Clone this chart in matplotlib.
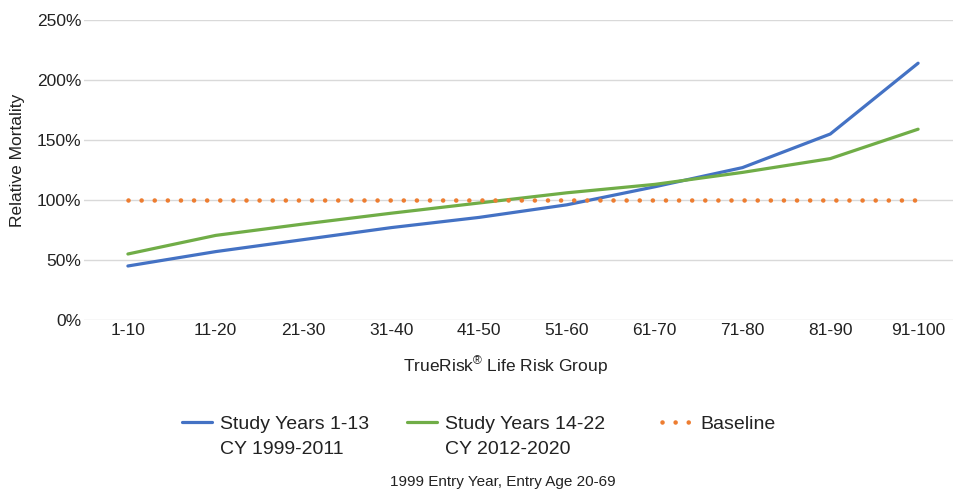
import numpy as np
import matplotlib.pyplot as plt
from matplotlib.lines import Line2D
from matplotlib.ticker import PercentFormatter

# chart data (relative mortality, %)
groups = ['1-10', '11-20', '21-30', '31-40', '41-50',
          '51-60', '61-70', '71-80', '81-90', '91-100']
early = [45, 57, 67, 77, 85.5, 96, 111, 127, 155, 214]
late = [55, 70.5, 80, 89, 97.5, 106, 113, 123, 134.5, 159]
baseline = [100] * 10
labels = [('Study Years 1-13', 'CY 1999-2011'),
          ('Study Years 14-22', 'CY 2012-2020'),
          ('Baseline', '')]

plt.rcParams['font.family'] = ['Liberation Sans', 'DejaVu Sans']
plt.rcParams['mathtext.fontset'] = 'custom'
plt.rcParams['mathtext.rm'] = 'Liberation Sans'

W, H = 954, 496
fig = plt.figure(figsize=(W/100, H/100), dpi=100)
ax = fig.add_axes([84/W, 1-320/H, (962-84)/W, 300/H])

x = np.arange(len(groups))
l1, = ax.plot(x, early, color='#4472C4', lw=2.3, solid_capstyle='round')
l2, = ax.plot(x, late, color='#70AD47', lw=2.3, solid_capstyle='round')
l3, = ax.plot(x, baseline, color='#ED7D31', lw=3.3, dashes=(0.01, 2.85),
              dash_capstyle='round')

ax.set_xlim(-0.5, len(groups)-0.5)
ax.set_ylim(0, 250)
ax.set_yticks(np.arange(0, 251, 50))
ax.yaxis.set_major_formatter(PercentFormatter(decimals=0))
ax.set_xticks(x)
ax.set_xticklabels(groups)
ax.tick_params(axis='both', length=0, labelsize=12.5, colors='#222222')
ax.tick_params(axis='y', pad=2)
ax.tick_params(axis='x', pad=2)
ax.grid(axis='y', color='#d9d9d9', lw=1)
ax.set_axisbelow(True)
for s in ax.spines.values():
    s.set_visible(False)

fig.text(18/W, 1-160/H, 'Relative Mortality', rotation=90, ha='center', va='center',
         fontsize=12.5, color='#222222')
fig.text(505/W, 1-366/H, 'TrueRisk$^{\\mathrm{®}}$ Life Risk Group', ha='center', va='center',
         fontsize=12.5, color='#222222')

# legend: one small legend per series so the handle sits on the first line
blank = Line2D([], [], color='none')
for line, (top, bottom), xpos in zip([l1, l2, l3], labels, [182, 407, 662]):
    hs = [line, blank] if bottom else [line]
    ts = [top, bottom] if bottom else [top]
    fig.legend(hs, ts, loc='upper left', bbox_to_anchor=(xpos/W, 1-415/H),
               frameon=False, fontsize=14, handlelength=1.55, handletextpad=0.4,
               borderpad=0, borderaxespad=0, labelspacing=0.42, labelcolor='#222222')

fig.text(503/W, 1-482/H, '1999 Entry Year, Entry Age 20-69', ha='center', va='center',
         fontsize=11, color='#222222')

fig.savefig('out.png', dpi=100)
